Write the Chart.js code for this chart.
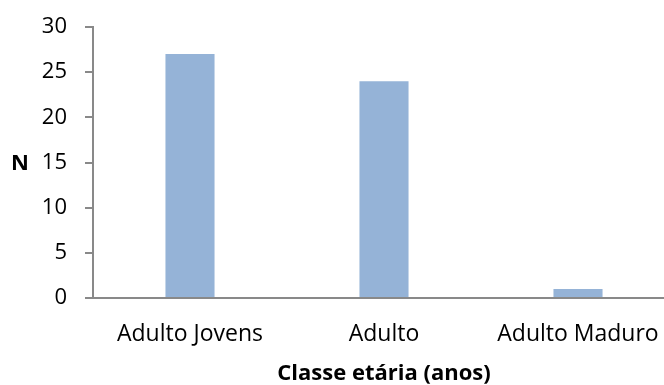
<!DOCTYPE html>
<html>
<head>
<meta charset="utf-8">
<script src="https://cdn.jsdelivr.net/npm/chart.js@4/dist/chart.umd.min.js"></script>
<style>
  html, body { margin: 0; padding: 0; background: #fff; overflow: hidden; }
  #wrap { width: 664px; height: 385px; overflow: hidden; }
</style>
</head>
<body>
<div id="wrap"><canvas id="c" width="675" height="385"></canvas></div>
<script>
// Age classes and counts
const categories = ['Adulto Jovens', 'Adulto', 'Adulto Maduro'];
const counts = [27, 24, 1];
const yTicks = [0, 5, 10, 15, 20, 25, 30];
const xTitle = 'Classe etária (anos)';
const yTitle = 'N';

const FONT = '"Open Sans", "Liberation Sans", sans-serif';
const AXIS_GRAY = '#898989';

// Horizontal "N" label beside the value axis
const yTitlePlugin = {
  id: 'yTitle',
  afterDraw(chart) {
    const y = chart.scales.y;
    const ctx = chart.ctx;
    ctx.save();
    ctx.font = 'bold 22px ' + FONT;
    ctx.fillStyle = '#000';
    ctx.textAlign = 'center';
    ctx.textBaseline = 'middle';
    ctx.fillText(yTitle, 20, y.getPixelForValue(15) + 1);
    ctx.restore();
  }
};

new Chart(document.getElementById('c'), {
  type: 'bar',
  data: {
    labels: categories,
    datasets: [{
      data: counts,
      backgroundColor: '#95B3D7',
      borderWidth: 0,
      categoryPercentage: 1,
      barPercentage: 0.253
    }]
  },
  options: {
    responsive: false,
    devicePixelRatio: 1,
    animation: false,
    layout: { padding: { top: 27, right: 0, bottom: 0, left: 0 } },
    plugins: { legend: { display: false }, tooltip: { enabled: false } },
    scales: {
      x: {
        grid: { display: false, drawTicks: false },
        border: { display: true, color: AXIS_GRAY, width: 2 },
        ticks: { color: '#000', font: { family: FONT, size: 23 }, padding: 23, maxRotation: 0 },
        title: {
          display: true, text: xTitle, color: '#000',
          font: { family: FONT, size: 22, weight: 'bold', lineHeight: 1.0 },
          padding: { top: 0, bottom: 0 }
        },
        afterFit(scale) {
          scale.height = 87;
          scale.paddingLeft = 0;
          scale.paddingRight = 0;
        }
      },
      y: {
        min: 0, max: 30,
        afterBuildTicks(scale) { scale.ticks = yTicks.map(v => ({ value: v })); },
        grid: { display: true, drawOnChartArea: false, drawTicks: true, tickLength: 8, color: AXIS_GRAY, lineWidth: 2 },
        border: { display: true, color: AXIS_GRAY, width: 2 },
        ticks: { color: '#000', font: { family: FONT, size: 22 }, padding: 18 },
        afterFit(scale) {
          scale.width = 93;
          scale.paddingTop = 0;
          scale.paddingBottom = 0;
        }
      }
    }
  },
  plugins: [yTitlePlugin]
});
</script>
</body>
</html>
